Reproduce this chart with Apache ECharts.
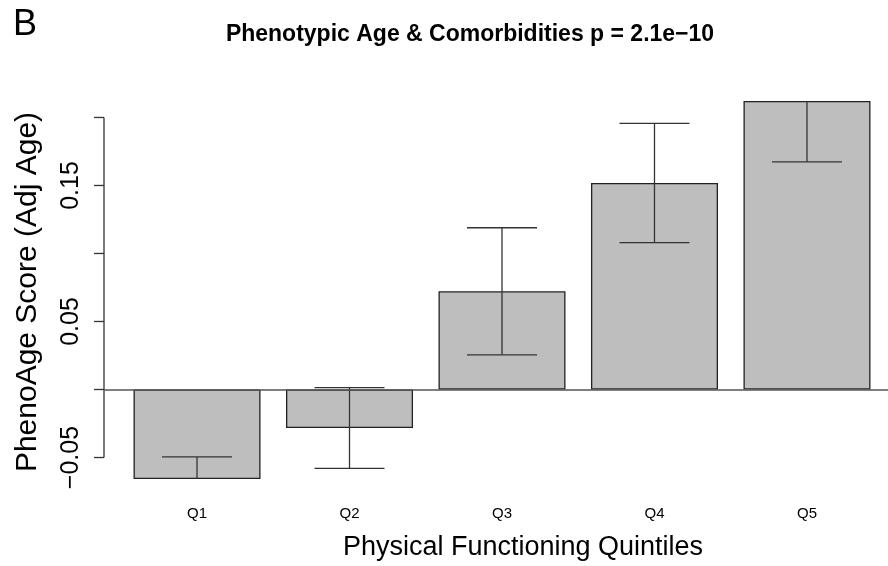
<!DOCTYPE html>
<html>
<head>
<meta charset="utf-8">
<script src="https://cdn.jsdelivr.net/npm/echarts@6/dist/echarts.min.js"></script>
<style>
  html, body { margin: 0; padding: 0; background: #fff; }
  #chart { width: 888px; height: 566px; }
</style>
</head>
<body>
<div id="chart"></div>
<script>
// Quintile labels, mean scores and standard errors
const categories = ['Q1', 'Q2', 'Q3', 'Q4', 'Q5'];
const means = [-0.0658, -0.0283, 0.0722, 0.1518, 0.2121];
const stdErr = [0.0162, 0.0297, 0.0467, 0.0438, 0.0448];

// Y-axis ticks and the subset that carries a label
const yTicks = [-0.05, 0, 0.05, 0.1, 0.15, 0.2];
const yTickLabels = [-0.05, 0.05, 0.15];

const mainTitle = 'Phenotypic Age & Comorbidities p = 2.1e\u221210';
const xTitle = 'Physical Functioning Quintiles';
const yTitle = 'PhenoAge Score (Adj Age)';
const panelTag = 'B';

// barplot-style layout: unit-width bars separated by a 0.2 space
const SPACE = 0.2, WIDTH = 1;
const mids = categories.map((_, i) => SPACE + i * (WIDTH + SPACE) + WIDTH / 2);
const xLo = SPACE, xHi = categories.length * (WIDTH + SPACE);
const xPad = 0.04 * (xHi - xLo);
// the plot region runs past the right page edge; show only the visible part
const GRID_LEFT = 104, GRID_WIDTH = 784, FULL_WIDTH = 796;
const xMin = xLo - xPad;
const xMax = xMin + (xHi + xPad - xMin) * GRID_WIDTH / FULL_WIDTH;

const FONT = "'Liberation Sans', Arial, Helvetica, sans-serif";
const INK = '#333';
const TICK_LEN = 10;

const fmt = v => (v < 0 ? '\u2212' : '') + Math.abs(v).toFixed(2);

const chart = echarts.init(document.getElementById('chart'), null, { renderer: 'canvas' });

chart.setOption({
  animation: false,
  backgroundColor: '#fff',
  grid: { left: GRID_LEFT, top: 101, width: GRID_WIDTH, height: 378, containLabel: false },
  xAxis: {
    type: 'value',
    min: xMin,
    max: xMax,
    axisLine: { show: false },
    axisTick: { show: false },
    splitLine: { show: false },
    axisLabel: {
      customValues: mids,
      margin: 27,
      fontSize: 15,
      fontFamily: FONT,
      color: '#000',
      formatter: v => {
        const i = mids.findIndex(m => Math.abs(m - v) < 1e-6);
        return i >= 0 ? categories[i] : '';
      }
    }
  },
  yAxis: {
    type: 'value',
    min: Math.min(...means),
    max: Math.max(...means),
    axisLine: { show: false },
    axisTick: { show: false },
    splitLine: { show: false },
    axisLabel: {
      customValues: yTickLabels,
      rotate: 90,
      margin: 20,
      fontSize: 25,
      fontFamily: FONT,
      color: '#000',
      formatter: fmt
    }
  },
  series: [
    {
      name: 'score',
      type: 'bar',
      barWidth: 127,
      data: mids.map((x, i) => [x, means[i]]),
      itemStyle: { color: '#bebebe', borderColor: '#222', borderWidth: 1.3 },
      markLine: {
        silent: true,
        symbol: ['none', 'none'],
        label: { show: false },
        lineStyle: { color: '#555', width: 1.5, type: 'solid' },
        data: [{ yAxis: 0 }]
      },
      z: 2
    },
    {
      // standard-error whiskers with flat caps, clipped to the plot area
      name: 'se',
      type: 'custom',
      clip: true,
      z: 4,
      data: mids.map((x, i) => [x, means[i], stdErr[i]]),
      renderItem: (params, api) => {
        const x = api.value(0), m = api.value(1), s = api.value(2);
        const top = api.coord([x, m + s]);
        const bot = api.coord([x, m - s]);
        const half = 35;
        const style = { stroke: INK, lineWidth: 1.3 };
        return {
          type: 'group',
          children: [
            { type: 'line', shape: { x1: top[0], y1: top[1], x2: bot[0], y2: bot[1] }, style },
            { type: 'line', shape: { x1: top[0] - half, y1: top[1], x2: top[0] + half, y2: top[1] }, style },
            { type: 'line', shape: { x1: bot[0] - half, y1: bot[1], x2: bot[0] + half, y2: bot[1] }, style }
          ]
        };
      }
    },
    {
      // left axis: spine from the first tick to the last, with outward ticks
      name: 'yAxisSpine',
      type: 'custom',
      clip: false,
      z: 4,
      data: [yTicks],
      renderItem: (params, api) => {
        const x0 = params.coordSys.x;
        const ys = yTicks.map(t => api.coord([xMin, t])[1]);
        const style = { stroke: INK, lineWidth: 1.3 };
        const children = [
          { type: 'line', shape: { x1: x0, y1: Math.max(...ys), x2: x0, y2: Math.min(...ys) }, style }
        ];
        ys.forEach(y => children.push({
          type: 'line', shape: { x1: x0 - TICK_LEN, y1: y, x2: x0, y2: y }, style
        }));
        return { type: 'group', children };
      }
    }
  ],
  graphic: [
    {
      type: 'text', x: 13, y: 25,
      style: { text: panelTag, font: '36px ' + FONT, fill: '#000', align: 'left', verticalAlign: 'middle' }
    },
    {
      type: 'text', x: 470, y: 35,
      style: { text: mainTitle, font: 'bold 23px ' + FONT, fill: '#000', align: 'center', verticalAlign: 'middle' }
    },
    {
      type: 'text', x: 523, y: 548,
      style: { text: xTitle, font: '27px ' + FONT, fill: '#000', align: 'center', verticalAlign: 'middle' }
    },
    {
      type: 'text', x: 28, y: 292, rotation: Math.PI / 2,
      style: { text: yTitle, font: '30px ' + FONT, fill: '#000', align: 'center', verticalAlign: 'middle' }
    }
  ]
});
</script>
</body>
</html>
